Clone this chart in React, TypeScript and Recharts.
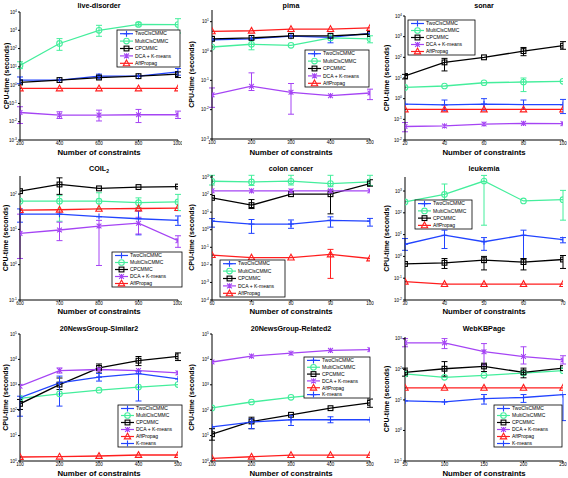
import React from 'react';
import { LineChart, Line, XAxis, YAxis, ErrorBar } from 'recharts';

type Pair = [number, number] | null;
type Key = 'two' | 'multi' | 'cp' | 'dca' | 'aff' | 'km';

const SERIES_NAMES: Record<Key, string> = {
  two: 'TwoClsCMMC',
  multi: 'MultiClsCMMC',
  cp: 'CPCMMC',
  dca: 'DCA + K-means',
  aff: 'AffPropag',
  km: 'K-means',
};
const X_LABEL = 'Number of constraints';
const Y_LABEL = 'CPU-time (seconds)';

// ---------- live-disorder ----------
const LD_X = [200, 400, 600, 800, 1000];
const LD_YTICKS = [1e-3, 1e-2, 1e-1, 1, 10, 100, 1000, 10000];
const LD_TWO = [1.9, 1.9, 3.1, 3.1, 5.3];
const LD_TWO_ERR: Pair[] = [[1.2, 2.8], null, [2.2, 4.0], null, [3.5, 8.1]];
const LD_MULTI = [12, 190, 1000, 2100, 2050];
const LD_MULTI_ERR: Pair[] = [[8, 19], [80, 350], [470, 1870], [1700, 2600], [710, 4300]];
const LD_CP = [1.4, 1.9, 2.6, 3.1, 4.0];
const LD_CP_ERR: Pair[] = [null, null, null, null, [2.6, 5.3]];
const LD_DCA = [0.032, 0.023, 0.023, 0.024, 0.024];
const LD_DCA_ERR: Pair[] = [[0.008, 0.066], [0.015, 0.035], [0.011, 0.043], [0.009, 0.047], [0.015, 0.038]];
const LD_AFF = [0.66, 0.66, 0.66, 0.66, 0.66];

// ---------- pima ----------
const PI_X = [100, 200, 300, 400, 500];
const PI_YTICKS = [1e-3, 1e-2, 1e-1, 1, 10];
const PI_TWO = [2.4, 2.6, 3.2, 2.9, 4.0];
const PI_TWO_ERR: Pair[] = [null, null, null, [1.9, 3.4], null];
const PI_MULTI = [1.37, 1.7, 1.56, 2.8, 2.6];
const PI_MULTI_ERR: Pair[] = [null, [1.1, 2.6], null, null, [1.9, 3.3]];
const PI_CP = [2.6, 2.8, 3.3, 3.3, 3.8];
const PI_DCA = [0.032, 0.063, 0.039, 0.03, 0.037];
const PI_DCA_ERR: Pair[] = [[0.012, 0.055], [0.045, 0.18], [0.007, 0.078], null, [0.022, 0.05]];
const PI_AFF = [4.7, 4.9, 5.6, 5.6, 6.1];

// ---------- sonar ----------
const SO_X = [20, 40, 60, 80, 100];
const SO_YTICKS = [1e-2, 1e-1, 1, 10, 100, 1000, 10000];
const SO_TWO = [0.54, 0.5, 0.55, 0.52, 0.51];
const SO_TWO_ERR: Pair[] = [null, [0.26, 0.86], [0.28, 1.0], [0.3, 0.86], [0.19, 0.92]];
const SO_MULTI = [3.5, 4.1, 5.9, 6.4, 6.9];
const SO_MULTI_ERR: Pair[] = [null, null, null, [2.2, 10], null];
const SO_CP = [12.5, 57, 100, 200, 365];
const SO_CP_ERR: Pair[] = [[9, 15], [22, 89], null, [120, 300], [245, 575]];
const SO_DCA = [0.045, 0.048, 0.059, 0.064, 0.062];
const SO_DCA_ERR: Pair[] = [[0.025, 0.07], null, null, null, null];
const SO_AFF = [0.3, 0.3, 0.3, 0.3, 0.3];

// ---------- COIL2 ----------
const CO_X = [600, 700, 800, 900, 1000];
const CO_YTICKS = [0.1, 1, 10, 100];
const CO_TWO = [27, 27, 23, 20, 18];
const CO_TWO_ERR: Pair[] = [[16, 38], null, null, [7, 33], [13, 24]];
const CO_MULTI = [63, 63, 63, 57, 60];
const CO_MULTI_ERR: Pair[] = [null, [17, 90], [37, 109], [42, 78], [34, 98]];
const CO_CP = [121, 187, 145, 158, 163];
const CO_CP_ERR: Pair[] = [null, [98, 288], null, null, null];
const CO_DCA = [7.7, 9.6, 12.4, 15, 4.8];
const CO_DCA_ERR: Pair[] = [[1.5, 27], [4.8, 16], [0.95, 18], [7.4, 22], [3.1, 6.6]];
const CO_AFF = [35, 36, 38, 39, 40];

// ---------- colon cancer ----------
const CC_X = [60, 70, 80, 90, 100];
const CC_YTICKS = [1e-4, 1e-3, 1e-2, 1e-1, 1, 10, 100, 1000];
const CC_TWO = [3.1, 2.1, 2.1, 3.4, 3.1];
const CC_TWO_ERR: Pair[] = [[1.4, 4.3], [0.62, 3.8], [1.2, 3.6], [1.4, 5.4], [1.6, 4.4]];
const CC_MULTI = [575, 525, 575, 425, 525];
const CC_MULTI_ERR: Pair[] = [[350, 1250], [330, 1250], [350, 1250], [280, 1250], [330, 1250]];
const CC_CP = [65, 25, 105, 105, 425];
const CC_CP_ERR: Pair[] = [null, [16, 52], null, [8, 180], [300, 700]];
const CC_DCA = [163, 163, 163, 163, 163];
const CC_AFF = [0.036, 0.026, 0.026, 0.039, 0.023];
const CC_AFF_ERR: Pair[] = [null, null, null, [0.0017, 0.076], null];

// ---------- leukemia ----------
const LE_X = [30, 40, 50, 60, 70];
const LE_YTICKS = [1e-2, 1e-1, 1, 10, 100, 1000];
const LE_TWO = [3.6, 9.4, 4.7, 9.4, 5.9];
const LE_TWO_ERR: Pair[] = [[1.9, 6.6], [2.3, 16], [1.9, 7.3], [0.8, 16], [4.2, 7.3]];
const LE_MULTI = [316, 700, 2880, 350, 400];
const LE_MULTI_ERR: Pair[] = [null, [400, 2100], [27, 5200], null, [46, 1070]];
const LE_CP = [0.45, 0.51, 0.67, 0.55, 0.72];
const LE_CP_ERR: Pair[] = [null, [0.28, 0.8], [0.24, 1.0], [0.24, 0.8], [0.28, 1.1]];
const LE_AFF = [0.069, 0.054, 0.054, 0.054, 0.054];

// ---------- 20NewsGroup-Similar2 ----------
const S2_X = [100, 200, 300, 400, 500];
const S2_YTICKS = [1, 10, 100, 1000, 10000, 100000];
const S2_MULTI = [290, 440, 615, 810, 1020];
const S2_CP = [178, 1020, 4600, 8900, 13200];
const S2_CP_ERR: Pair[] = [[107, 265], [650, 1850], [2900, 6600], [5700, 13000], [9000, 18000]];
const S2_DCA = [880, 3630, 4000, 3630, 2950];
const S2_DCA_ERR: Pair[] = [null, [2900, 4600], null, null, null];
const S2_AFF = [1.44, 1.48, 1.57, 1.72, 1.72];
const S2_KM = [310, 1200, 2000, 2760, 1700];
const S2_KM_ERR: Pair[] = [[58, 355], [145, 2200], [1400, 2800], [230, 3400], null];

// ---------- 20NewsGroup-Related2 ----------
const R2_X = [100, 200, 300, 400, 500];
const R2_YTICKS = [1, 10, 100, 1000, 10000, 100000];
const R2_MULTI = [123, 210, 320, 445, 620];
const R2_CP = [11.3, 36, 66, 120, 195];
const R2_CP_ERR: Pair[] = [[6.6, 18.7], [18.7, 53], null, null, [130, 275]];
const R2_DCA = [7900, 13500, 17600, 22600, 24300];
const R2_AFF = [1.27, 1.47, 1.71, 1.71, 1.71];
const R2_KM = [22, 34, 42, 42, 42];
const R2_KM_ERR: Pair[] = [null, [18.7, 46], [25, 62], [32, 55], null];

// ---------- WebKBPage ----------
const WK_X = [50, 100, 150, 200, 250];
const WK_YTICKS = [0.1, 1, 10, 100, 1000];
const WK_MULTI = [71, 55, 64, 76, 91];
const WK_CP = [80, 105, 125, 80, 110];
const WK_CP_ERR: Pair[] = [[60, 110], [60, 180], [85, 160], [53, 110], null];
const WK_DCA = [740, 740, 380, 263, 204];
const WK_DCA_ERR: Pair[] = [[550, 1020], [480, 1020], [140, 700], [150, 550], [150, 280]];
const WK_AFF = [25, 25, 25, 25, 25];
const WK_KM = [9.3, 8.6, 11, 12, 15];
const WK_KM_ERR: Pair[] = [null, null, [7.3, 15], [8.3, 15], [2.1, 15]];

// ---------- styles ----------
const COLORS: Record<Key, string> = {
  two: '#2244ff',
  multi: '#44ee9c',
  cp: '#000000',
  dca: '#a544f4',
  aff: '#ff1e1e',
  km: '#2244ff',
};
const SHAPES: Record<Key, string> = {
  two: 'plus', multi: 'circle', cp: 'square', dca: 'x', aff: 'triangle', km: 'plus',
};
const FONT = '"Liberation Sans", Arial, Helvetica, sans-serif';

interface SeriesDef { key: Key; values: number[]; err?: Pair[] }
interface PanelDef {
  title: string;
  sub?: string;
  x: number[];
  yTicks: number[];
  yDomain: [number, number];
  series: SeriesDef[];
  legend: Key[];
  box: { x0: number; y0: number; x1: number; y1: number };
  titleY: number;
  xLabelY: number;
  yLabelX: number;
  leg: { left: number; top: number; width: number; height: number };
}

const PANELS: PanelDef[] = [
  {
    title: 'live-disorder', x: LD_X, yTicks: LD_YTICKS, yDomain: [1e-3, 1e4],
    series: [
      { key: 'two', values: LD_TWO, err: LD_TWO_ERR },
      { key: 'multi', values: LD_MULTI, err: LD_MULTI_ERR },
      { key: 'cp', values: LD_CP, err: LD_CP_ERR },
      { key: 'dca', values: LD_DCA, err: LD_DCA_ERR },
      { key: 'aff', values: LD_AFF },
    ],
    legend: ['two', 'multi', 'cp', 'dca', 'aff'],
    box: { x0: 20, y0: 12, x1: 178, y1: 140 }, titleY: 5, xLabelY: 152, yLabelX: 7,
    leg: { left: 117, top: 30, width: 63, height: 37 },
  },
  {
    title: 'pima', x: PI_X, yTicks: PI_YTICKS, yDomain: [1e-3, 25],
    series: [
      { key: 'two', values: PI_TWO, err: PI_TWO_ERR },
      { key: 'multi', values: PI_MULTI, err: PI_MULTI_ERR },
      { key: 'cp', values: PI_CP },
      { key: 'dca', values: PI_DCA, err: PI_DCA_ERR },
      { key: 'aff', values: PI_AFF },
    ],
    legend: ['two', 'multi', 'cp', 'dca', 'aff'],
    box: { x0: 212, y0: 10, x1: 370, y1: 139 }, titleY: 5, xLabelY: 152, yLabelX: 192,
    leg: { left: 305, top: 50, width: 64, height: 37 },
  },
  {
    title: 'sonar', x: SO_X, yTicks: SO_YTICKS, yDomain: [1e-2, 1e4],
    series: [
      { key: 'two', values: SO_TWO, err: SO_TWO_ERR },
      { key: 'multi', values: SO_MULTI, err: SO_MULTI_ERR },
      { key: 'cp', values: SO_CP, err: SO_CP_ERR },
      { key: 'dca', values: SO_DCA, err: SO_DCA_ERR },
      { key: 'aff', values: SO_AFF },
    ],
    legend: ['two', 'multi', 'cp', 'dca', 'aff'],
    box: { x0: 405, y0: 16, x1: 563, y1: 140 }, titleY: 5, xLabelY: 152, yLabelX: 387,
    leg: { left: 408, top: 20, width: 67, height: 35 },
  },
  {
    title: 'COIL', sub: '2', x: CO_X, yTicks: CO_YTICKS, yDomain: [0.1, 325],
    series: [
      { key: 'two', values: CO_TWO, err: CO_TWO_ERR },
      { key: 'multi', values: CO_MULTI, err: CO_MULTI_ERR },
      { key: 'cp', values: CO_CP, err: CO_CP_ERR },
      { key: 'dca', values: CO_DCA, err: CO_DCA_ERR },
      { key: 'aff', values: CO_AFF },
    ],
    legend: ['two', 'multi', 'cp', 'dca', 'aff'],
    box: { x0: 20, y0: 176, x1: 178, y1: 300 }, titleY: 168, xLabelY: 311, yLabelX: 6,
    leg: { left: 112, top: 252, width: 70, height: 35 },
  },
  {
    title: 'colon cancer', x: CC_X, yTicks: CC_YTICKS, yDomain: [1e-4, 1300],
    series: [
      { key: 'two', values: CC_TWO, err: CC_TWO_ERR },
      { key: 'multi', values: CC_MULTI, err: CC_MULTI_ERR },
      { key: 'cp', values: CC_CP, err: CC_CP_ERR },
      { key: 'dca', values: CC_DCA },
      { key: 'aff', values: CC_AFF, err: CC_AFF_ERR },
    ],
    legend: ['two', 'multi', 'cp', 'dca', 'aff'],
    box: { x0: 212, y0: 175, x1: 370, y1: 300 }, titleY: 168, xLabelY: 311, yLabelX: 192,
    leg: { left: 220, top: 260, width: 65, height: 37 },
  },
  {
    title: 'leukemia', x: LE_X, yTicks: LE_YTICKS, yDomain: [1e-2, 4400],
    series: [
      { key: 'two', values: LE_TWO, err: LE_TWO_ERR },
      { key: 'multi', values: LE_MULTI, err: LE_MULTI_ERR },
      { key: 'cp', values: LE_CP, err: LE_CP_ERR },
      { key: 'aff', values: LE_AFF },
    ],
    legend: ['two', 'multi', 'cp', 'aff'],
    box: { x0: 405, y0: 177, x1: 563, y1: 300 }, titleY: 168, xLabelY: 311, yLabelX: 387,
    leg: { left: 415, top: 200, width: 57, height: 29 },
  },
  {
    title: '20NewsGroup-Similar2', x: S2_X, yTicks: S2_YTICKS, yDomain: [1, 1e5],
    series: [
      { key: 'multi', values: S2_MULTI },
      { key: 'cp', values: S2_CP, err: S2_CP_ERR },
      { key: 'dca', values: S2_DCA, err: S2_DCA_ERR },
      { key: 'aff', values: S2_AFF },
      { key: 'km', values: S2_KM, err: S2_KM_ERR },
    ],
    legend: ['two', 'multi', 'cp', 'dca', 'aff', 'km'],
    box: { x0: 20, y0: 334, x1: 178, y1: 461 }, titleY: 328, xLabelY: 473, yLabelX: 6,
    leg: { left: 118, top: 405, width: 64, height: 42 },
  },
  {
    title: '20NewsGroup-Related2', x: R2_X, yTicks: R2_YTICKS, yDomain: [1, 1e5],
    series: [
      { key: 'multi', values: R2_MULTI },
      { key: 'cp', values: R2_CP, err: R2_CP_ERR },
      { key: 'dca', values: R2_DCA },
      { key: 'aff', values: R2_AFF },
      { key: 'km', values: R2_KM, err: R2_KM_ERR },
    ],
    legend: ['two', 'multi', 'cp', 'dca', 'aff', 'km'],
    box: { x0: 212, y0: 334, x1: 370, y1: 461 }, titleY: 328, xLabelY: 473, yLabelX: 192,
    leg: { left: 304, top: 357, width: 66, height: 41 },
  },
  {
    title: 'WebKBPage', x: WK_X, yTicks: WK_YTICKS, yDomain: [0.1, 1150],
    series: [
      { key: 'multi', values: WK_MULTI },
      { key: 'cp', values: WK_CP, err: WK_CP_ERR },
      { key: 'dca', values: WK_DCA, err: WK_DCA_ERR },
      { key: 'aff', values: WK_AFF },
      { key: 'km', values: WK_KM, err: WK_KM_ERR },
    ],
    legend: ['two', 'multi', 'cp', 'dca', 'aff', 'km'],
    box: { x0: 405, y0: 337, x1: 563, y1: 461 }, titleY: 328, xLabelY: 473, yLabelX: 387,
    leg: { left: 494, top: 405, width: 68, height: 42 },
  },
];

function Marker({ shape, cx, cy, color }: { shape: string; cx: number; cy: number; color: string }) {
  const sw = 1.1;
  if (shape === 'plus') {
    return <path d={`M${cx - 3},${cy}H${cx + 3}M${cx},${cy - 3}V${cy + 3}`} stroke={color} strokeWidth={sw} fill="none" />;
  }
  if (shape === 'circle') {
    return <circle cx={cx} cy={cy} r={2.8} stroke={color} strokeWidth={sw} fill="none" />;
  }
  if (shape === 'square') {
    return <rect x={cx - 2.4} y={cy - 2.4} width={4.8} height={4.8} stroke={color} strokeWidth={sw} fill="none" />;
  }
  if (shape === 'x') {
    return (
      <path
        d={`M${cx - 2.4},${cy - 2.4}L${cx + 2.4},${cy + 2.4}M${cx - 2.4},${cy + 2.4}L${cx + 2.4},${cy - 2.4}M${cx},${cy - 2.6}V${cy + 2.6}`}
        stroke={color} strokeWidth={sw} fill="none"
      />
    );
  }
  return <path d={`M${cx},${cy - 3.4}L${cx + 3.2},${cy + 2.4}L${cx - 3.2},${cy + 2.4}Z`} stroke={color} strokeWidth={sw} fill="none" />;
}

function LogTick(props: any) {
  const { x, y, payload } = props;
  const e = Math.round(Math.log10(payload.value));
  return (
    <text x={x} y={y} textAnchor="end" fontSize={4.5} fontFamily={FONT} fill="#000" dy="0.35em">
      10<tspan dy={-1.8} fontSize={3.4}>{e}</tspan>
    </text>
  );
}

const YW = 30;
const XH = 12;
const MT = 4;
const MR = 4;

function Panel({ p }: { p: PanelDef }) {
  const { x0, y0, x1, y1 } = p.box;
  const width = x1 - x0 + YW + MR;
  const height = y1 - y0 + MT + XH;
  const rows = p.x.map((xv, i) => {
    const r: Record<string, any> = { x: xv };
    p.series.forEach((s) => {
      const v = s.values[i];
      r[s.key] = v;
      const e = s.err ? s.err[i] : null;
      r[s.key + 'Err'] = e ? [v - e[0], e[1] - v] : null;
    });
    return r;
  });
  return (
    <div style={{ position: 'absolute', left: x0 - YW, top: y0 - MT }}>
      <LineChart width={width} height={height} data={rows} margin={{ top: MT, right: MR, bottom: 0, left: 0 }}>
        <XAxis
          dataKey="x" type="number" domain={[p.x[0], p.x[p.x.length - 1]]} ticks={p.x} interval={0}
          allowDataOverflow height={XH} tickSize={1.5} tickMargin={0.5}
          tick={{ fontSize: 4.5, fill: '#000', fontFamily: FONT }}
          axisLine={{ stroke: '#000', strokeWidth: 1 }} tickLine={{ stroke: '#000' }}
        />
        <YAxis
          type="number" scale="log" domain={p.yDomain} ticks={p.yTicks} interval={0}
          allowDataOverflow width={YW} tickSize={2} tickMargin={1}
          tick={(tp: any) => <LogTick {...tp} />}
          axisLine={{ stroke: '#000', strokeWidth: 1 }} tickLine={{ stroke: '#000' }}
        />
        {p.series.map((s) => (
          <Line
            key={s.key} type="linear" dataKey={s.key} stroke={COLORS[s.key]} strokeWidth={1.3}
            isAnimationActive={false} activeDot={false}
            dot={(dp: any) =>
              dp.cx == null || dp.cy == null ? (
                <g key={`${s.key}-d${dp.index}`} />
              ) : (
                <Marker key={`${s.key}-d${dp.index}`} shape={SHAPES[s.key]} cx={dp.cx} cy={dp.cy} color={COLORS[s.key]} />
              )
            }
          >
            {s.err ? (
              <ErrorBar dataKey={s.key + 'Err'} width={3} stroke={COLORS[s.key]} strokeWidth={1} direction="y" isAnimationActive={false} />
            ) : null}
          </Line>
        ))}
      </LineChart>
    </div>
  );
}

function PanelText({ p }: { p: PanelDef }) {
  const { x0, y0, x1, y1 } = p.box;
  const cx = (x0 + x1) / 2;
  const cy = (y0 + y1) / 2;
  const L = p.leg;
  const rowH = L.height / p.legend.length;
  return (
    <g>
      <text x={cx} y={p.titleY} textAnchor="middle" dy="0.35em" fontSize={7.2} fontWeight="bold">
        {p.title}
        {p.sub ? <tspan dy={2} fontSize={5}>{p.sub}</tspan> : null}
      </text>
      <text x={cx} y={p.xLabelY} textAnchor="middle" dy="0.35em" fontSize={7.8} fontWeight="bold">
        {X_LABEL}
      </text>
      <text
        transform={`translate(${p.yLabelX},${cy}) rotate(-90)`}
        textAnchor="middle" dy="0.35em" fontSize={7} fontWeight="bold"
      >
        {Y_LABEL}
      </text>
      <rect x={L.left} y={L.top} width={L.width} height={L.height} fill="#fff" stroke="#000" strokeWidth={0.8} />
      {p.legend.map((k, i) => {
        const ry = L.top + rowH * (i + 0.5);
        return (
          <g key={k}>
            <line x1={L.left + 3} x2={L.left + 16} y1={ry} y2={ry} stroke={COLORS[k]} strokeWidth={1.2} />
            <Marker shape={SHAPES[k]} cx={L.left + 9.5} cy={ry} color={COLORS[k]} />
            <text x={L.left + 18} y={ry} dy="0.35em" fontSize={5}>
              {SERIES_NAMES[k]}
            </text>
          </g>
        );
      })}
    </g>
  );
}

export default function App() {
  return (
    <div style={{ position: 'absolute', left: 0, top: 0, width: 568, height: 478, background: '#fff', overflow: 'hidden' }}>
      {PANELS.map((p) => (
        <Panel key={p.title} p={p} />
      ))}
      <svg
        width={568} height={478}
        style={{ position: 'absolute', left: 0, top: 0, pointerEvents: 'none' }}
        fontFamily={FONT} fill="#000"
      >
        {PANELS.map((p) => (
          <PanelText key={p.title} p={p} />
        ))}
      </svg>
    </div>
  );
}
